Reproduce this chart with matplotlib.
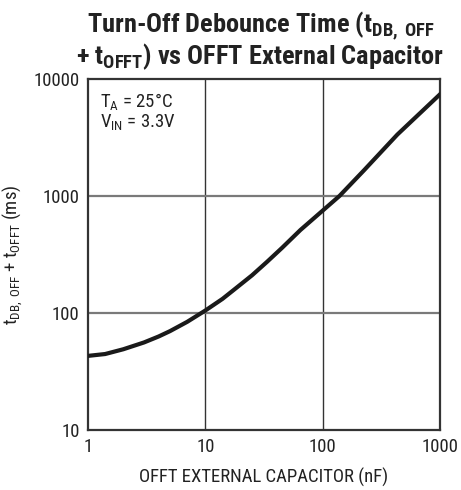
import matplotlib
matplotlib.use('Agg')
import matplotlib.pyplot as plt
from matplotlib import font_manager

# pick a condensed face close to the datasheet's Helvetica Condensed
names = set(f.name for f in font_manager.fontManager.ttflist)
narrow = 'DejaVu Sans'
for cand in ['Roboto Condensed', 'Liberation Sans Narrow', 'Arial Narrow', 'Archivo Narrow',
             'Asap Condensed', 'Barlow Condensed']:
    if cand in names:
        narrow = cand
        break

plt.rcParams['font.family'] = [narrow, 'DejaVu Sans']
plt.rcParams['mathtext.fontset'] = 'custom'
plt.rcParams['mathtext.rm'] = narrow
plt.rcParams['mathtext.it'] = narrow
plt.rcParams['mathtext.bf'] = narrow + ':bold'

# data
cap_nf = [1, 1.4, 2, 3, 4, 5, 7, 10, 14, 17.4, 25, 33.6, 45, 64.6, 100, 139, 224, 433, 1000]
t_ms = [43, 44.6, 49, 56, 63, 70, 84, 105, 132, 157, 210, 274, 360, 512, 750, 1000, 1650, 3350, 7400]

x_ticks = [1, 10, 100, 1000]
y_ticks = [10, 100, 1000, 10000]

fig = plt.figure(figsize=(4.61, 4.90), dpi=100)
ax = fig.add_axes([88 / 461, 1 - 430 / 490, 352 / 461, 351 / 490])

ax.plot(cap_nf, t_ms, color='#1a1a1a', lw=3, solid_joinstyle='round', zorder=3)
ax.set_xscale('log')
ax.set_yscale('log')
ax.set_xlim(1, 1000)
ax.set_ylim(10, 10000)

for xv in x_ticks[1:-1]:
    ax.axvline(xv, color='#333333', lw=1.0, zorder=1)
for yv in y_ticks[1:-1]:
    ax.axhline(yv, color='#7a7a7a', lw=1.6, zorder=1)

ax.set_xticks(x_ticks)
ax.set_xticklabels([str(v) for v in x_ticks])
ax.set_yticks(y_ticks)
ax.set_yticklabels([str(v) for v in y_ticks])
ax.minorticks_off()
ax.tick_params(length=0, labelsize=13.5, pad=6, colors='#222222')

for s in ax.spines.values():
    s.set_color('#333333')
    s.set_linewidth(1.6)

ax.set_xlabel('OFFT EXTERNAL CAPACITOR (nF)', fontsize=13.5, color='#222222', labelpad=8)
ax.set_ylabel(r'$\mathrm{t_{DB,\ OFF}}$ + $\mathrm{t_{OFFT}}$ (ms)', fontsize=13.5, color='#222222', labelpad=6)

ax.text(0.035, 0.965, r'T$_\mathrm{A}$ = 25°C', transform=ax.transAxes, fontsize=13.5,
        va='top', ha='left', color='#222222')
ax.text(0.035, 0.905, r'V$_\mathrm{IN}$ = 3.3V', transform=ax.transAxes, fontsize=13.5,
        va='top', ha='left', color='#222222')

title = (r'Turn-Off Debounce Time (t$_\mathbf{DB,\ OFF}$' + '\n'
         + r'+ t$_\mathbf{OFFT}$) vs OFFT External Capacitor')
fig.text(0.565, 0.982, title, fontsize=19, fontweight='bold', ha='center', va='top',
         ma='center', linespacing=1.0, color='#222222')

fig.savefig('out.png', dpi=100)
